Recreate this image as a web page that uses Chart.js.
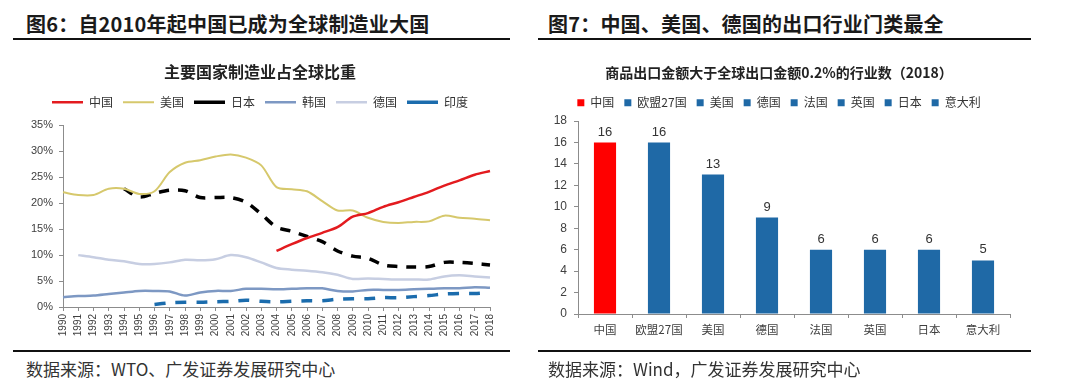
<!DOCTYPE html>
<html lang="zh-CN">
<head>
<meta charset="utf-8">
<title>制造业与出口行业</title>
<script src="https://cdn.jsdelivr.net/npm/chart.js@4/dist/chart.umd.min.js"></script>
<style>
  html, body { margin: 0; padding: 0; background: #fff; }
  body { width: 1080px; height: 390px; position: relative; overflow: hidden; font-family: "Noto Sans CJK SC", sans-serif; }
  .fig-title { position: absolute; top: 9px; font-size: 20px; font-weight: 700; color: #1a1a1a; line-height: 30px; white-space: nowrap; letter-spacing: 0.2px; }
  .rule { position: absolute; height: 2px; background: #111; }
  .source { position: absolute; top: 357px; font-size: 17px; color: #333; line-height: 24px; white-space: nowrap; }
  .box { position: absolute; top: 44px; height: 300px; }
</style>
</head>
<body>
  <div class="fig-title" style="left:26px">图6：自2010年起中国已成为全球制造业大国</div>
  <div class="rule" style="left:13px; width:497px; top:38px"></div>
  <div class="box" style="left:30px; width:510px"><canvas id="shareChart"></canvas></div>
  <div class="rule" style="left:13px; width:497px; top:350px"></div>
  <div class="source" style="left:26px">数据来源：WTO、广发证券发展研究中心</div>

  <div class="fig-title" style="left:548px">图7：中国、美国、德国的出口行业门类最全</div>
  <div class="rule" style="left:538px; width:493px; top:38px"></div>
  <div class="box" style="left:548px; width:532px"><canvas id="exportChart"></canvas></div>
  <div class="rule" style="left:538px; width:493px; top:350px"></div>
  <div class="source" style="left:548px">数据来源：Wind，广发证券发展研究中心</div>

<script>
// ---- figure 6: manufacturing share of world total (%) ----
const years = ["1990", "1991", "1992", "1993", "1994", "1995", "1996", "1997", "1998", "1999",
  "2000", "2001", "2002", "2003", "2004", "2005", "2006", "2007", "2008", "2009",
  "2010", "2011", "2012", "2013", "2014", "2015", "2016", "2017", "2018"];
const china = [null, null, null, null, null, null, null, null, null, null,
  null, null, null, null, 10.8, 12.1, 13.3, 14.3, 15.4, 17.4,
  18.1, 19.3, 20.2, 21.2, 22.2, 23.4, 24.4, 25.5, 26.2];
const usa = [22.1, 21.6, 21.6, 22.8, 22.8, 21.8, 22.3, 26.0, 27.8, 28.3,
  29.0, 29.4, 28.8, 27.3, 23.1, 22.7, 22.3, 20.4, 18.6, 18.6,
  17.2, 16.4, 16.2, 16.4, 16.5, 17.6, 17.2, 17.0, 16.7];
const japan = [null, null, null, null, 22.8, 21.2, 21.9, 22.5, 22.4, 21.1,
  21.1, 21.1, 20.2, 17.9, 15.4, 14.6, 13.6, 12.6, 10.8, 9.8,
  9.4, 8.1, 7.8, 7.7, 7.8, 8.6, 8.6, 8.4, 8.1];
const korea = [1.9, 2.1, 2.2, 2.5, 2.8, 3.1, 3.1, 3.0, 2.2, 2.8,
  3.1, 3.1, 3.5, 3.5, 3.4, 3.5, 3.6, 3.6, 3.1, 3.0,
  3.3, 3.3, 3.3, 3.4, 3.5, 3.6, 3.6, 3.8, 3.7];
const germany = [null, 10.0, 9.6, 9.1, 8.8, 8.3, 8.3, 8.6, 9.1, 9.0,
  9.2, 10.0, 9.6, 8.6, 7.5, 7.2, 7.0, 6.7, 6.2, 5.4,
  5.5, 5.4, 5.3, 5.3, 5.3, 5.9, 6.1, 5.9, 5.7];
const india = [null, null, null, null, null, null, 0.5, 0.8, 0.9, 0.9,
  1.0, 1.1, 1.3, 1.1, 1.0, 1.1, 1.2, 1.2, 1.5, 1.6,
  1.6, 1.8, 1.8, 2.0, 2.2, 2.5, 2.6, 2.6, 2.8];
const shareTicks = [0, 5, 10, 15, 20, 25, 30, 35];

// ---- figure 7: industries with exports > 0.2% of world exports (2018) ----
const exporters = ["中国", "欧盟27国", "美国", "德国", "法国", "英国", "日本", "意大利"];
const industryCounts = [16, 16, 13, 9, 6, 6, 6, 5];
const countTicks = [0, 2, 4, 6, 8, 10, 12, 14, 16, 18];

const CJK = "'Noto Sans CJK SC', sans-serif";
const LATIN = "'Liberation Sans', Arial, sans-serif";
const AXIS = "#8c8c8c";
const TEXT = "#404040";

document.addEventListener("DOMContentLoaded", function () {
  const shareCtx = document.getElementById("shareChart").getContext("2d");

  const line = (label, data, color, width, dash) => ({
    label: label,
    data: data,
    borderColor: color,
    backgroundColor: color,
    borderWidth: width,
    borderDash: dash || [],
    pointRadius: 0,
    tension: 0.3,
    fill: false,
  });

  new Chart(shareCtx, {
    type: "line",
    data: {
      labels: years,
      datasets: [
        line("中国", china, "#e31b1f", 2.5),
        line("美国", usa, "#d6c86c", 2),
        line("日本", japan, "#000000", 3.5, [10, 9]),
        line("韩国", korea, "#7d98c3", 2.5),
        line("德国", germany, "#c7cee2", 2.5),
        line("印度", india, "#1b6cad", 3.5, [11, 10]),
      ],
    },
    options: {
      responsive: true,
      maintainAspectRatio: false,
      animation: false,
      layout: { padding: { left: 0, right: 50, top: 0, bottom: 0 } },
      plugins: {
        title: {
          display: true,
          text: "主要国家制造业占全球比重",
          color: "#222",
          font: { family: CJK, size: 16, weight: "bold" },
          padding: { top: 18, bottom: 5 },
        },
        // empty subtitle used as a spacer between legend and plot
        subtitle: {
          display: true,
          text: "",
          weight: 500,
          font: { size: 1 },
          padding: { top: 6, bottom: 0 },
        },
        legend: {
          display: true,
          position: "top",
          labels: {
            usePointStyle: true,
            pointStyle: "line",
            pointStyleWidth: 31,
            padding: 10,
            color: "#333",
            font: { family: CJK, size: 12 },
          },
        },
        tooltip: { enabled: false },
      },
      scales: {
        x: {
          offset: false,
          grid: { drawOnChartArea: false, tickLength: 4, color: AXIS },
          border: { color: AXIS },
          ticks: {
            autoSkip: false,
            minRotation: 90,
            maxRotation: 90,
            padding: 3,
            color: TEXT,
            font: { family: LATIN, size: 10 },
          },
          afterFit: (scale) => { scale.height = 37; },
        },
        y: {
          min: shareTicks[0],
          max: shareTicks[shareTicks.length - 1],
          grid: { drawOnChartArea: false, tickLength: 4, color: AXIS },
          border: { color: AXIS },
          afterBuildTicks: (scale) => { scale.ticks = shareTicks.map((v) => ({ value: v })); },
          ticks: {
            padding: 6,
            color: TEXT,
            font: { family: LATIN, size: 11 },
            callback: (value) => value + "%",
          },
          afterFit: (scale) => { scale.width = 33; },
        },
      },
    },
  });
});

document.addEventListener("DOMContentLoaded", function () {
  const exportCtx = document.getElementById("exportChart").getContext("2d");
  const barColor = (i) => (i === 0 ? "#ff0000" : "#1f69a6");

  // value labels above each bar
  const barValueLabels = {
    id: "barValueLabels",
    afterDatasetsDraw: function (chart) {
      const ctx = chart.ctx;
      const meta = chart.getDatasetMeta(0);
      ctx.save();
      ctx.font = "13px " + LATIN;
      ctx.fillStyle = "#333";
      ctx.textAlign = "center";
      ctx.textBaseline = "bottom";
      meta.data.forEach((bar, i) => {
        ctx.fillText(chart.data.datasets[0].data[i], bar.x, bar.y - 4);
      });
      ctx.restore();
    },
  };

  new Chart(exportCtx, {
    type: "bar",
    data: {
      labels: exporters,
      datasets: [
        {
          label: "行业数",
          data: industryCounts,
          backgroundColor: (c) => barColor(c.dataIndex),
          borderWidth: 0,
          barPercentage: 0.41,
          categoryPercentage: 1,
        },
      ],
    },
    plugins: [barValueLabels],
    options: {
      responsive: true,
      maintainAspectRatio: false,
      animation: false,
      layout: { padding: { left: 0, right: 70, top: 0, bottom: 0 } },
      plugins: {
        title: {
          display: true,
          text: "商品出口金额大于全球出口金额0.2%的行业数（2018）",
          color: "#222",
          font: { family: CJK, size: 14, weight: "bold" },
          padding: { top: 20, bottom: 6 },
        },
        subtitle: {
          display: true,
          text: "",
          weight: 500,
          font: { size: 1 },
          padding: { top: 1, bottom: 0 },
        },
        legend: {
          display: true,
          position: "top",
          labels: {
            boxWidth: 7,
            boxHeight: 7,
            padding: 10,
            color: "#333",
            font: { family: CJK, size: 12 },
            generateLabels: (chart) =>
              chart.data.labels.map((label, i) => ({
                text: label,
                fillStyle: barColor(i),
                strokeStyle: barColor(i),
                lineWidth: 0,
                fontColor: "#333",
                hidden: false,
                index: i,
              })),
          },
          onClick: null,
        },
        tooltip: { enabled: false },
      },
      scales: {
        x: {
          grid: { drawOnChartArea: false, tickLength: 4, color: AXIS },
          border: { color: AXIS },
          ticks: {
            autoSkip: false,
            minRotation: 0,
            maxRotation: 0,
            padding: 5,
            color: TEXT,
            font: { family: CJK, size: 11.5 },
          },
          afterFit: (scale) => { scale.height = 30; },
        },
        y: {
          min: countTicks[0],
          max: countTicks[countTicks.length - 1],
          grid: { drawOnChartArea: false, tickLength: 4, color: AXIS },
          border: { color: AXIS },
          afterBuildTicks: (scale) => { scale.ticks = countTicks.map((v) => ({ value: v })); },
          ticks: { padding: 7, color: TEXT, font: { family: LATIN, size: 12 } },
          afterFit: (scale) => { scale.width = 30; },
        },
      },
    },
  });
});
</script>
</body>
</html>
